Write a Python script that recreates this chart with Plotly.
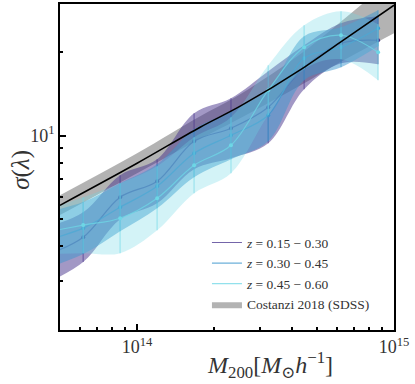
import plotly.graph_objects as go

# halo mass bins (M200 in Msun/h)
mass = [4.43e13, 6.17e13, 8.59e13, 1.197e14, 1.667e14, 2.32e14, 3.24e14, 4.47e14, 6.22e14, 8.67e14]

# sigma(lambda) per redshift bin: centre, lower, upper
z1_mid = [3.72, 4.31, 6.01, 6.86, 9.55, 10.64, 12.66, 17.63, 21.51, 22.06]
z1_lo = [2.95, 3.51, 5.01, 5.72, 7.58, 8.30, 9.40, 14.70, 18.23, 18.08]
z1_hi = [4.69, 5.31, 7.21, 8.23, 12.05, 13.64, 17.06, 21.16, 25.39, 26.90]

z2_mid = [4.21, 4.65, 5.53, 6.58, 8.65, 10.04, 11.85, 19.00, 20.81, 24.36]
z2_lo = [3.34, 3.75, 4.53, 5.48, 7.09, 8.23, 9.55, 15.83, 17.63, 20.99]
z2_hi = [5.31, 5.77, 6.75, 7.90, 10.55, 12.25, 14.70, 22.80, 24.56, 28.28]

z3_mid = [4.50, 4.77, 5.05, 5.96, 7.83, 9.24, 14.58, 20.81, 22.99, 19.97]
z3_lo = [3.75, 3.78, 3.78, 4.57, 6.21, 7.33, 11.85, 17.34, 18.84, 15.83]
z3_hi = [5.40, 6.01, 6.75, 7.77, 9.88, 11.66, 17.93, 24.97, 28.05, 25.18]

# Costanzi 2018 (SDSS) relation
cos_mass = [5.01e13, 1e14, 1.76e14, 2.52e14, 4.47e14, 6.17e14, 1e15]
cos_mid = [5.62, 7.96, 10.73, 12.77, 17.63, 21.69, 29.48]
cos_lo = [5.18, 7.33, 9.74, 11.56, 15.45, 18.38, 23.37]
cos_hi = [6.11, 8.65, 11.75, 14.10, 20.14, 25.60, 37.17]

labels = ["<i>z</i> = 0.15 − 0.30", "<i>z</i> = 0.30 − 0.45", "<i>z</i> = 0.45 − 0.60"]
base = [(70, 50, 140), (60, 150, 205), (110, 215, 230)]
fill_alpha = [0.5, 0.5, 0.3]

fig = go.Figure()

# gray Costanzi band
fig.add_trace(go.Scatter(x=cos_mass, y=cos_lo, mode="lines", line=dict(width=0, shape="spline"),
                         showlegend=False, hoverinfo="skip"))
fig.add_trace(go.Scatter(x=cos_mass, y=cos_hi, mode="lines", line=dict(width=0, shape="spline"),
                         fill="tonexty", fillcolor="rgba(128,128,128,0.6)",
                         name="Costanzi 2018 (SDSS)", legendrank=4))

series = [(z1_mid, z1_lo, z1_hi), (z2_mid, z2_lo, z2_hi), (z3_mid, z3_lo, z3_hi)]
for i, (mid, lo, hi) in enumerate(series):
    r, g, b = base[i]
    fig.add_trace(go.Scatter(x=mass, y=lo, mode="lines", line=dict(width=0, shape="spline"),
                             showlegend=False, hoverinfo="skip"))
    fig.add_trace(go.Scatter(x=mass, y=hi, mode="lines", line=dict(width=0, shape="spline"),
                             fill="tonexty", fillcolor=f"rgba({r},{g},{b},{fill_alpha[i]})",
                             showlegend=False, hoverinfo="skip"))
    fig.add_trace(go.Scatter(
        x=mass, y=mid, mode="markers", showlegend=False,
        marker=dict(size=4, color=f"rgb({r},{g},{b})"),
        error_y=dict(type="data", symmetric=False,
                     array=[h - m for h, m in zip(hi, mid)],
                     arrayminus=[m - l for m, l in zip(mid, lo)],
                     color=f"rgba({r},{g},{b},0.45)", thickness=1.5, width=0),
    ))
    fig.add_trace(go.Scatter(x=mass, y=mid, mode="lines", name=labels[i], legendrank=i + 1,
                             line=dict(width=1.2, shape="spline", color=f"rgba({r},{g},{b},0.75)")))

fig.add_trace(go.Scatter(x=cos_mass, y=cos_mid, mode="lines", showlegend=False,
                         line=dict(color="black", width=1.5, shape="spline")))

serif = "Liberation Serif, DejaVu Serif, serif"
axis_common = dict(type="log", showline=True, linecolor="black", linewidth=1.5, mirror=True,
                   ticks="inside", ticklen=6, tickwidth=1.5, tickcolor="black", automargin=False,
                   showgrid=False, zeroline=False, tickfont=dict(family=serif, size=18, color="#333"))

fig.update_layout(
    width=415, height=384,
    margin=dict(l=60, r=21, t=4, b=54),
    plot_bgcolor="white", paper_bgcolor="white",
    font=dict(family=serif, color="#333"),
    xaxis=dict(axis_common, range=[13.7, 15.0],
               tickvals=[1e14, 1e15], ticktext=["10<sup>14</sup>", "10<sup>15</sup>"],
               minor=dict(tickvals=[6e13, 7e13, 8e13, 9e13, 2e14, 3e14, 4e14, 5e14, 6e14, 7e14, 8e14, 9e14],
                          ticks="inside", ticklen=3, tickcolor="black")),
    yaxis=dict(axis_common, range=[0.301, 1.474],
               tickvals=[10], ticktext=["10<sup>1</sup>"],
               minor=dict(tickvals=[3, 4, 5, 6, 7, 8, 9, 20], ticks="inside", ticklen=3, tickcolor="black")),
    legend=dict(x=0.44, y=0.03, xanchor="left", yanchor="bottom", bgcolor="rgba(0,0,0,0)",
                traceorder="normal",
                font=dict(size=13.5, family=serif, color="#333"), itemwidth=30, tracegroupgap=0),
)

# axis labels
fig.add_annotation(text="<i>M</i><sub>200</sub>[<i>M</i><sub>⊙</sub><i>h</i><sup>−1</sup>]",
                   xref="paper", yref="paper", x=0.63, y=-0.108, xanchor="center", yanchor="middle",
                   showarrow=False, font=dict(size=24, family=serif, color="#333"))
fig.add_annotation(text="<i>σ</i>(<i>λ</i>)", textangle=-90,
                   xref="paper", yref="paper", x=-0.115, y=0.49, xanchor="center", yanchor="middle",
                   showarrow=False, font=dict(size=25, family=serif, color="#333"))

fig.write_html("out.html", post_script="document.body.style.margin='0';",
               config={"displayModeBar": False})
